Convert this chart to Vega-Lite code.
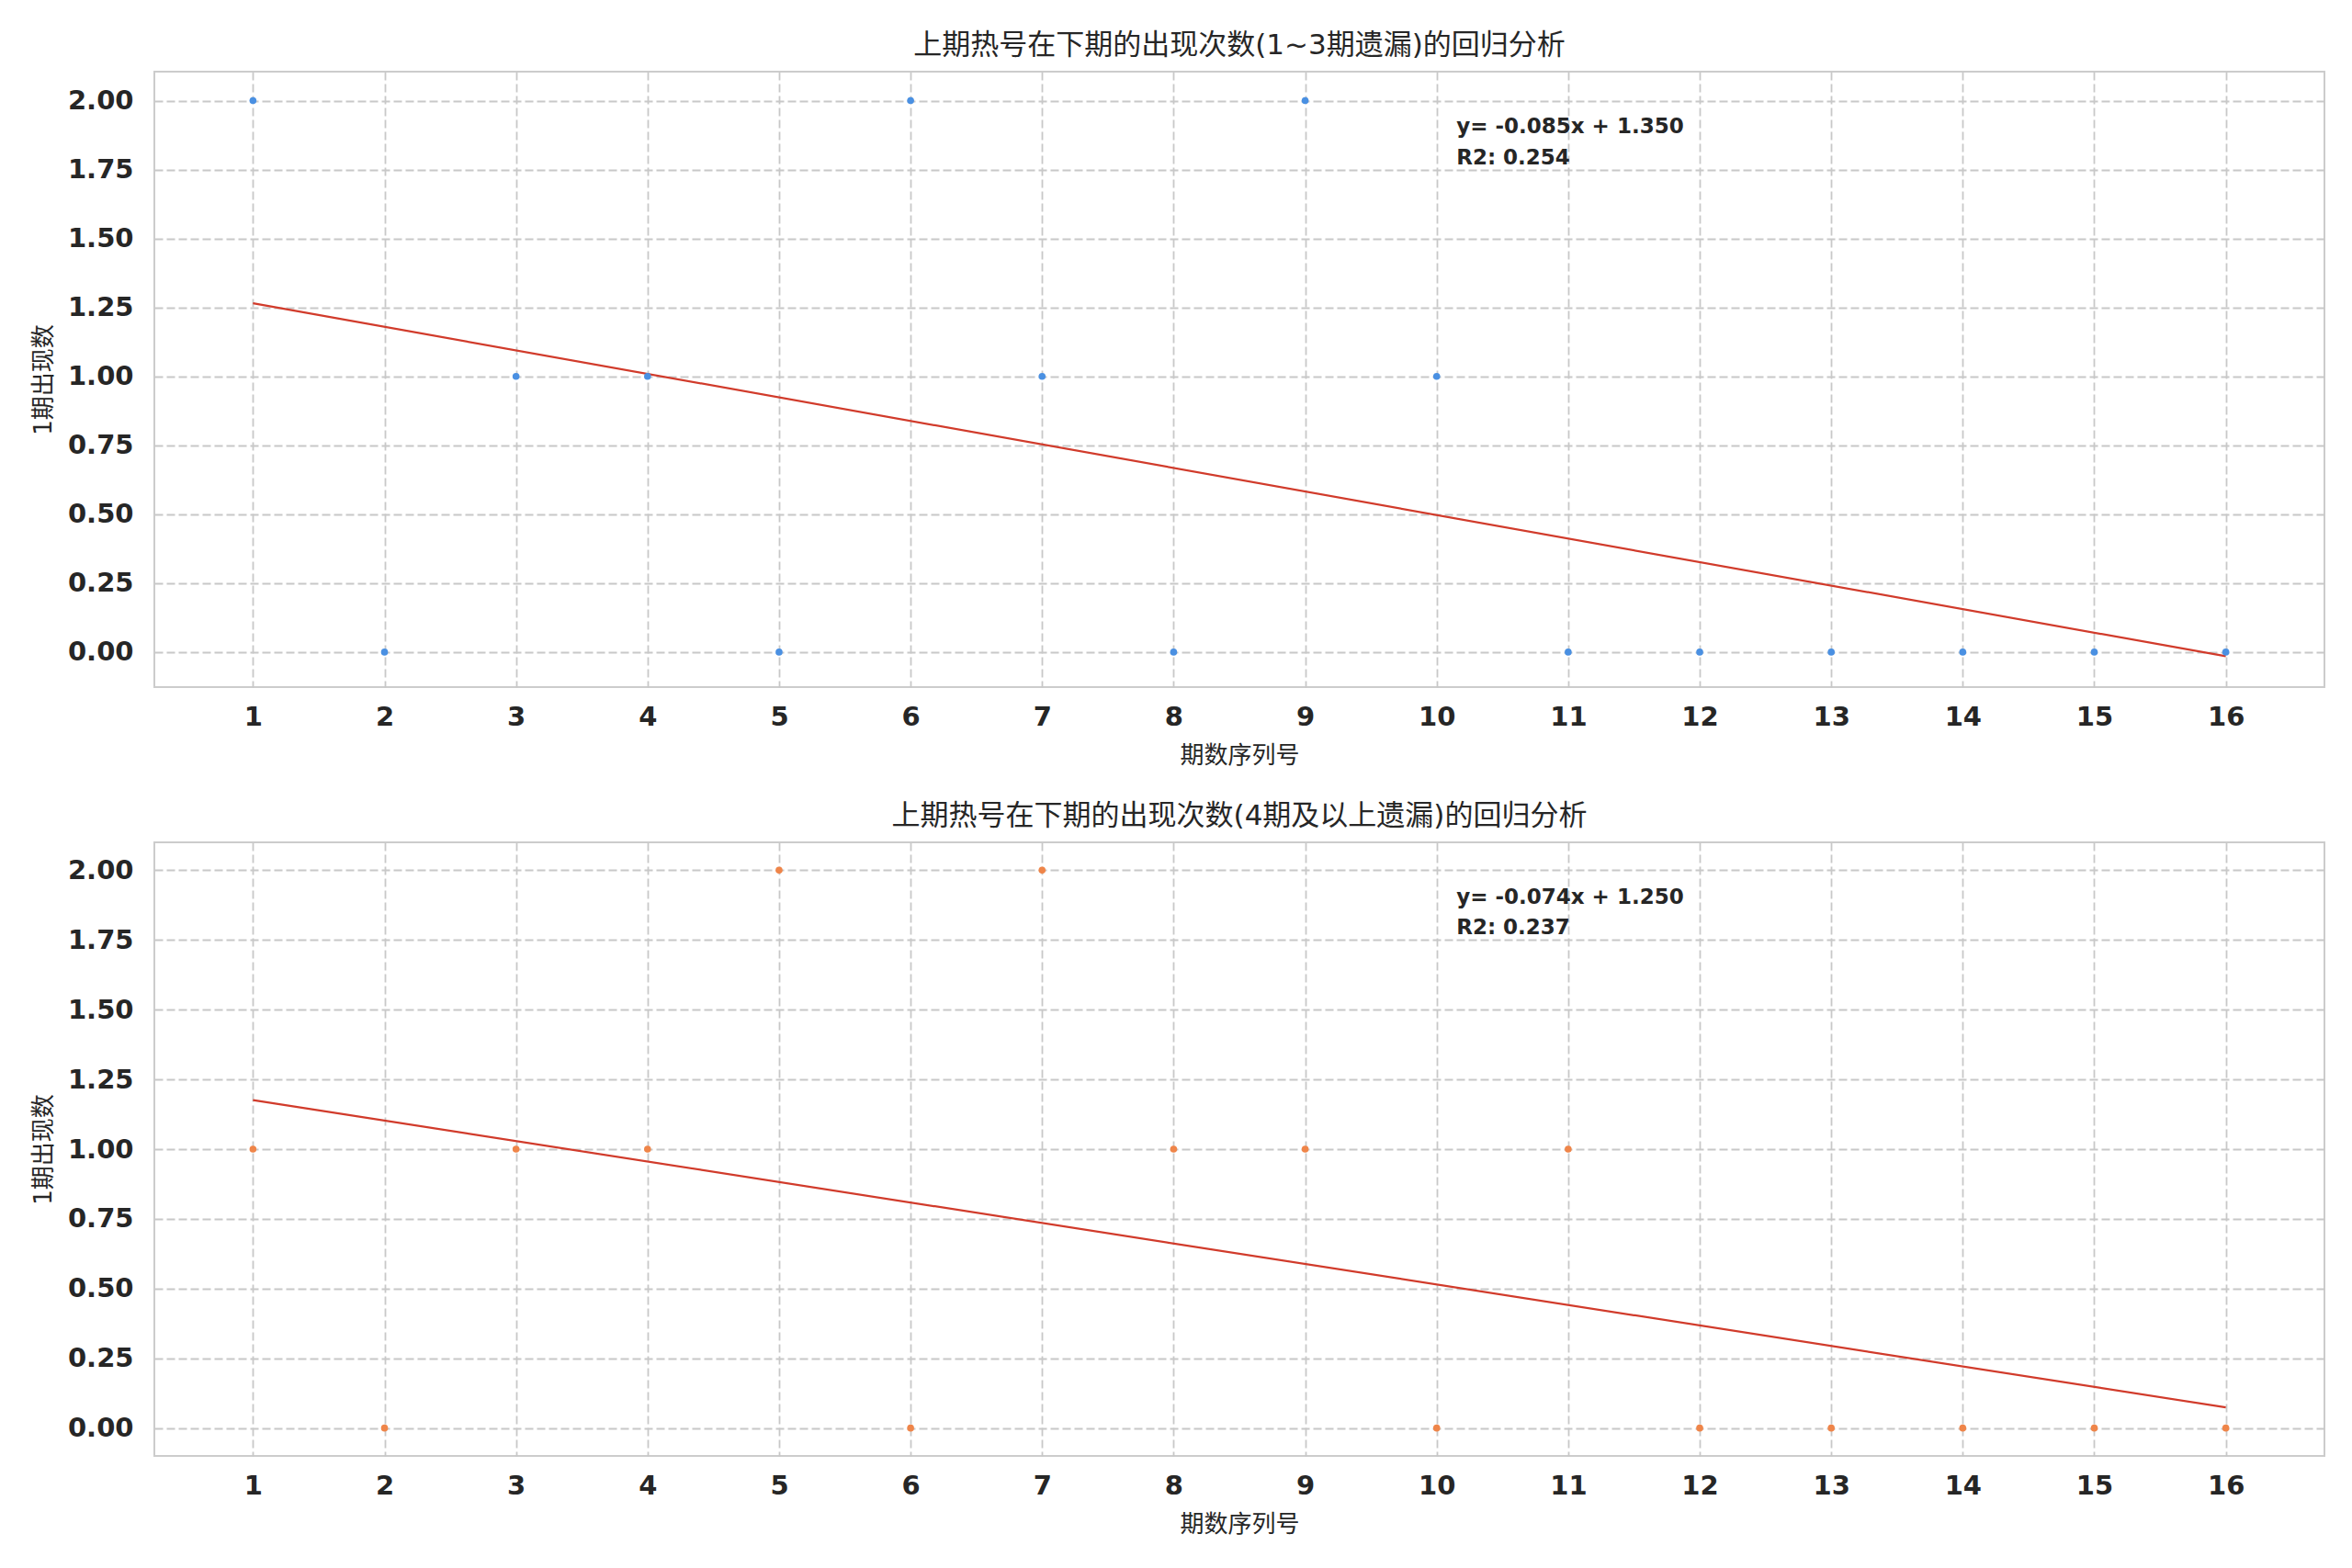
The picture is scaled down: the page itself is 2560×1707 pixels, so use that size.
{
  "$schema": "https://vega.github.io/schema/vega-lite/v6.json",
  "background": "white",
  "padding": {"left": 33, "top": 33, "right": 31, "bottom": 20},
  "config": {
    "font": "DejaVu Sans, Noto Sans CJK SC",
    "view": {"stroke": "#cccccc", "strokeWidth": 2},
    "axis": {
      "grid": true, "gridColor": "#c8c8c8", "gridDash": [9, 4], "gridWidth": 1.8,
      "domain": false, "ticks": false,
      "labelFont": "DejaVu Sans", "labelFontWeight": "bold", "labelFontSize": 29, "labelColor": "#262626",
      "titleFont": "DejaVu Sans, Noto Sans CJK SC", "titleFontSize": 26, "titleFontWeight": "normal", "titleColor": "#262626"
    },
    "title": {"fontSize": 31, "fontWeight": "normal", "color": "#262626", "offset": 12, "font": "DejaVu Sans, Noto Sans CJK SC"},
    "concat": {"spacing": 36}
  },
  "vconcat": [
    {
      "width": 2362, "height": 670,
      "title": "上期热号在下期的出现次数(1~3期遗漏)的回归分析",
      "encoding": {
        "x": {"field": "x", "type": "quantitative", "scale": {"domain": [0.25, 16.75], "nice": false, "zero": false},
              "axis": {"values": [1,2,3,4,5,6,7,8,9,10,11,12,13,14,15,16], "format": "d", "title": "期数序列号", "labelPadding": 18, "titlePadding": 14}},
        "y": {"field": "y", "type": "quantitative", "scale": {"domain": [-0.127, 2.105], "nice": false, "zero": false},
              "axis": {"values": [0, 0.25, 0.5, 0.75, 1, 1.25, 1.5, 1.75, 2], "format": ".2f", "title": "1期出现数", "labelPadding": 23, "titlePadding": 13}}
      },
      "layer": [
        {
          "data": {"values": [{"x": 1, "y": 1.265}, {"x": 16, "y": -0.015}]},
          "mark": {"type": "line", "color": "#d13b2b", "strokeWidth": 2.2}
        },
        {
          "data": {"values": [
            {"x": 1, "y": 2}, {"x": 2, "y": 0}, {"x": 3, "y": 1}, {"x": 4, "y": 1},
            {"x": 5, "y": 0}, {"x": 6, "y": 2}, {"x": 7, "y": 1}, {"x": 8, "y": 0},
            {"x": 9, "y": 2}, {"x": 10, "y": 1}, {"x": 11, "y": 0}, {"x": 12, "y": 0},
            {"x": 13, "y": 0}, {"x": 14, "y": 0}, {"x": 15, "y": 0}, {"x": 16, "y": 0}
          ]},
          "mark": {"type": "point", "filled": true, "size": 58, "opacity": 1, "color": "#4a90e2"}
        },
        {
          "data": {"values": [
            {"x": 10.15, "y": 1.881, "label": "y= -0.085x + 1.350"},
            {"x": 10.15, "y": 1.769, "label": "R2: 0.254"}
          ]},
          "mark": {"type": "text", "align": "left", "baseline": "alphabetic", "fontSize": 23, "fontWeight": "bold", "color": "#262626", "font": "DejaVu Sans"},
          "encoding": {"text": {"field": "label"}}
        }
      ]
    },
    {
      "width": 2362, "height": 668,
      "title": "上期热号在下期的出现次数(4期及以上遗漏)的回归分析",
      "encoding": {
        "x": {"field": "x", "type": "quantitative", "scale": {"domain": [0.25, 16.75], "nice": false, "zero": false},
              "axis": {"values": [1,2,3,4,5,6,7,8,9,10,11,12,13,14,15,16], "format": "d", "title": "期数序列号", "labelPadding": 18, "titlePadding": 14}},
        "y": {"field": "y", "type": "quantitative", "scale": {"domain": [-0.1, 2.1], "nice": false, "zero": false},
              "axis": {"values": [0, 0.25, 0.5, 0.75, 1, 1.25, 1.5, 1.75, 2], "format": ".2f", "title": "1期出现数", "labelPadding": 23, "titlePadding": 13}}
      },
      "layer": [
        {
          "data": {"values": [{"x": 1, "y": 1.176}, {"x": 16, "y": 0.074}]},
          "mark": {"type": "line", "color": "#d13b2b", "strokeWidth": 2.2}
        },
        {
          "data": {"values": [
            {"x": 1, "y": 1}, {"x": 2, "y": 0}, {"x": 3, "y": 1}, {"x": 4, "y": 1},
            {"x": 5, "y": 2}, {"x": 6, "y": 0}, {"x": 7, "y": 2}, {"x": 8, "y": 1},
            {"x": 9, "y": 1}, {"x": 10, "y": 0}, {"x": 11, "y": 1}, {"x": 12, "y": 0},
            {"x": 13, "y": 0}, {"x": 14, "y": 0}, {"x": 15, "y": 0}, {"x": 16, "y": 0}
          ]},
          "mark": {"type": "point", "filled": true, "size": 58, "opacity": 1, "color": "#ef8549"}
        },
        {
          "data": {"values": [
            {"x": 10.15, "y": 1.88, "label": "y= -0.074x + 1.250"},
            {"x": 10.15, "y": 1.77, "label": "R2: 0.237"}
          ]},
          "mark": {"type": "text", "align": "left", "baseline": "alphabetic", "fontSize": 23, "fontWeight": "bold", "color": "#262626", "font": "DejaVu Sans"},
          "encoding": {"text": {"field": "label"}}
        }
      ]
    }
  ]
}
